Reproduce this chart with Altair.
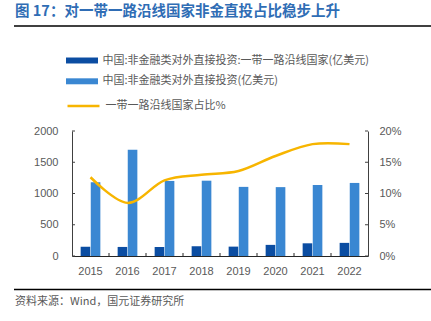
import altair as alt
import pandas as pd

years = ["2015", "2016", "2017", "2018", "2019", "2020", "2021", "2022"]
belt_road = [148, 145, 144, 156, 150, 178, 203, 210]
total = [1180, 1701, 1201, 1205, 1106, 1102, 1136, 1169]
share = [0.126, 0.085, 0.121, 0.130, 0.136, 0.160, 0.179, 0.179]

s1 = "中国:非金融类对外直接投资:一带一路沿线国家(亿美元)"
s2 = "中国:非金融类对外直接投资(亿美元)"
s3 = "一带一路沿线国家占比%"
title_text = "图 17：对一带一路沿线国家非金直投占比稳步上升"
source_text = "资料来源：Wind，国元证券研究所"

left_ticks = [0, 500, 1000, 1500, 2000]
right_ticks = [0, 0.05, 0.10, 0.15, 0.20]

DARK = "#0B4DA2"
LIGHT = "#3A87D2"
GOLD = "#F7B500"
GRAY = "#595959"
FONT = "Noto Sans CJK SC"
NUMFONT = "Liberation Sans"

W, H = 296, 125
PL, PT = 72, 131

bar_df = pd.DataFrame({
    "year": years * 2,
    "series": [s1] * len(years) + [s2] * len(years),
    "value": belt_road + total,
})
line_df = pd.DataFrame({"year": years, "share": share, "name": [s3] * len(years)})

xscale = alt.Scale(domain=years, paddingInner=0, paddingOuter=0)
xaxis = alt.Axis(title=None, labelAngle=0, ticks=False, labelPadding=9,
                 labelFont=NUMFONT, labelFontSize=11, labelColor=GRAY,
                 domainColor="#262626", domainWidth=1, grid=False)
lscale = alt.Scale(domain=[0, 2000], nice=False)
laxis = alt.Axis(title=None, values=left_ticks, format="d", ticks=False, labelPadding=14,
                 grid=False, labelFont=NUMFONT, labelFontSize=11,
                 labelColor=GRAY, domainColor="#404040", domainWidth=1)
rscale = alt.Scale(domain=[0, 0.2], nice=False)
raxis = alt.Axis(title=None, orient="right", values=right_ticks, format=".0%",
                 ticks=False, labelPadding=11, grid=False,
                 labelFont=NUMFONT, labelFontSize=11, labelColor=GRAY,
                 domainColor="#404040", domainWidth=1)

bars = alt.Chart(bar_df).mark_bar().encode(
    x=alt.X("year:N", scale=xscale, sort=years, axis=xaxis),
    xOffset=alt.XOffset("series:N", sort=[s1, s2],
                        scale=alt.Scale(paddingInner=0.05, paddingOuter=0.855)),
    y=alt.Y("value:Q", scale=lscale, axis=laxis),
    color=alt.Color("series:N", scale=alt.Scale(domain=[s1, s2], range=[DARK, LIGHT]),
                    legend=alt.Legend(orient="none", legendX=3.5, legendY=-77,
                                      title=None, padding=0, rowPadding=8.8,
                                      symbolType="M-2.46,-0.46H2.46V0.46H-2.46Z",
                                      symbolSize=169, symbolStrokeWidth=0,
                                      labelOffset=14, labelLimit=400,
                                      labelFont=FONT, labelFontSize=11,
                                      labelColor=GRAY)),
)

lt_df = pd.DataFrame({"v": left_ticks})
left_tick_marks = alt.Chart(lt_df).mark_rule(color="#404040", strokeWidth=1).encode(
    y=alt.Y("v:Q", scale=lscale, axis=laxis),
    x=alt.value(0), x2=alt.value(3),
)

xt_df = pd.DataFrame({"year": years[1:]})
x_tick_marks = alt.Chart(xt_df).mark_rule(color="#262626", strokeWidth=1).encode(
    x=alt.X("year:N", bandPosition=0, scale=xscale, sort=years, axis=xaxis),
    y=alt.value(H), y2=alt.value(H - 3),
)

left_layer = alt.layer(bars, left_tick_marks, x_tick_marks)

line = alt.Chart(line_df).mark_line(strokeWidth=2.5, interpolate="cardinal").encode(
    x=alt.X("year:N", scale=xscale, sort=years, axis=xaxis),
    y=alt.Y("share:Q", scale=rscale, axis=raxis),
    stroke=alt.Stroke("name:N", scale=alt.Scale(domain=[s3], range=[GOLD]),
                      legend=alt.Legend(orient="none", legendX=3.5, legendY=-33,
                                        title=None, padding=0,
                                        symbolType="M-2.46,0H2.46",
                                        symbolSize=169, symbolStrokeWidth=2.5,
                                        labelOffset=14, labelLimit=400,
                                        labelFont=FONT, labelFontSize=11,
                                        labelColor=GRAY)),
)

rt_df = pd.DataFrame({"v": right_ticks})
right_tick_marks = alt.Chart(rt_df).mark_rule(color="#404040", strokeWidth=1).encode(
    y=alt.Y("v:Q", scale=rscale, axis=raxis),
    x=alt.value(W), x2=alt.value(W - 3),
)

right_layer = alt.layer(line, right_tick_marks)

title_mark = alt.Chart(pd.DataFrame({"t": [title_text]})).mark_text(
    align="left", baseline="middle", font=FONT, fontSize=14.5, fontWeight="bold",
    color="#2F6DB5").encode(
    text="t:N", x=alt.value(15 - PL), y=alt.value(12 - PT))

source_mark = alt.Chart(pd.DataFrame({"t": [source_text]})).mark_text(
    align="left", baseline="middle", font=FONT, fontSize=11, color=GRAY).encode(
    text="t:N", x=alt.value(15 - PL), y=alt.value(302 - PT))

rule_df = pd.DataFrame({"k": [0]})
top_rule = alt.Chart(rule_df).mark_rule(color="#000000", strokeWidth=1.5).encode(
    x=alt.value(14 - PL), x2=alt.value(431 - PL), y=alt.value(26 - PT))
bottom_rule = alt.Chart(rule_df).mark_rule(color="#000000", strokeWidth=1.5).encode(
    x=alt.value(14 - PL), x2=alt.value(431 - PL), y=alt.value(289.5 - PT))

chart = alt.layer(
    left_layer, right_layer, title_mark, source_mark, top_rule, bottom_rule
).resolve_scale(
    y="independent"
).properties(
    width=W, height=H,
    autosize=alt.AutoSizeParams(type="none"),
    padding={"left": PL, "top": PT, "right": 431 - PL - W, "bottom": 321 - PT - H},
    background="white",
).configure_view(stroke=None)

chart.save("out.html", embed_options={"renderer": "svg", "actions": False})
